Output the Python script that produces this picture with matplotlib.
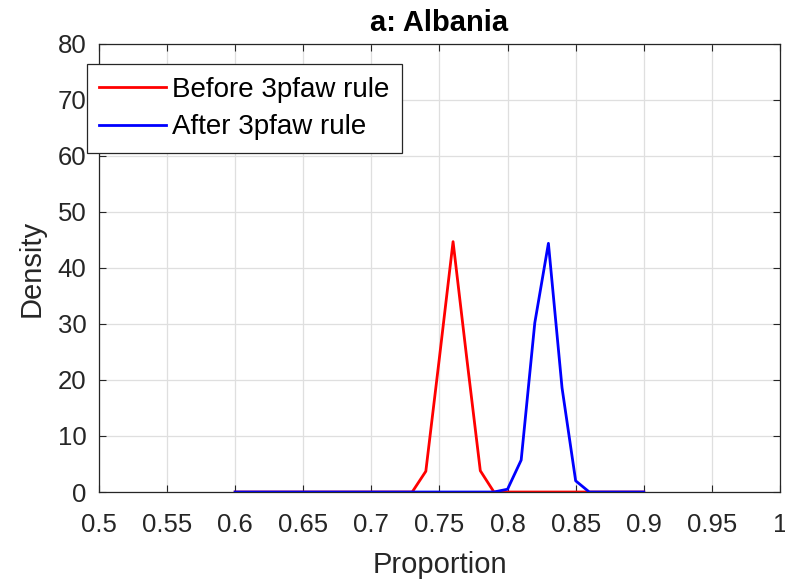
import numpy as np
import matplotlib
matplotlib.use('Agg')
import matplotlib.pyplot as plt

plt.rcParams['font.family'] = ['Liberation Sans', 'DejaVu Sans']

# proportion grid and density estimates
prop = np.round(np.arange(0.60, 0.905, 0.01), 2)
before = np.zeros(len(prop))
after = np.zeros(len(prop))
before_vals = {0.74: 3.7, 0.75: 24.0, 0.76: 44.7, 0.77: 24.0, 0.78: 3.8}
after_vals = {0.80: 0.5, 0.81: 5.7, 0.82: 30.2, 0.83: 44.4, 0.84: 18.6, 0.85: 2.0}
for k, v in before_vals.items():
    before[np.isclose(prop, k)] = v
for k, v in after_vals.items():
    after[np.isclose(prop, k)] = v

fig = plt.figure(figsize=(7.85, 5.86), dpi=100)
ax = fig.add_axes([0.126, 0.1604, 0.8676, 0.7646])
ax.plot(prop, before, color='#ff0000', lw=2, label='Before 3pfaw rule')
ax.plot(prop, after, color='#0000ff', lw=2, label='After 3pfaw rule')

ax.set_xlim(0.5, 1.0)
ax.set_ylim(0, 80)
xt = np.round(np.arange(0.5, 1.001, 0.05), 2)
ax.set_xticks(xt)
ax.set_xticklabels(['%g' % v for v in xt])
ax.set_yticks(np.arange(0, 81, 10))
ax.grid(True, color='#dfdfdf', lw=0.9)
ax.set_axisbelow(True)
ax.tick_params(direction='in', length=5, labelsize=18.5, colors='#262626',
               top=True, right=True)
ax.tick_params(axis='x', pad=15)
ax.tick_params(axis='y', pad=9)
for s in ax.spines.values():
    s.set_color('#262626')
    s.set_linewidth(0.9)

ax.set_xlabel('Proportion', fontsize=21, color='#262626', labelpad=10)
ax.set_ylabel('Density', fontsize=21, color='#262626', labelpad=9)
ax.set_title('a: Albania', fontsize=21, fontweight='bold', pad=9)

leg = ax.legend(loc='upper left', bbox_to_anchor=(-0.0176, 0.955), fontsize=20,
                frameon=True, fancybox=False, edgecolor='#262626',
                borderaxespad=0, handlelength=2.4, borderpad=0.45,
                labelspacing=0.42, handletextpad=0.2)
leg.get_frame().set_linewidth(0.9)
leg.get_frame().set_alpha(1)

fig.savefig('out.png', dpi=100)
